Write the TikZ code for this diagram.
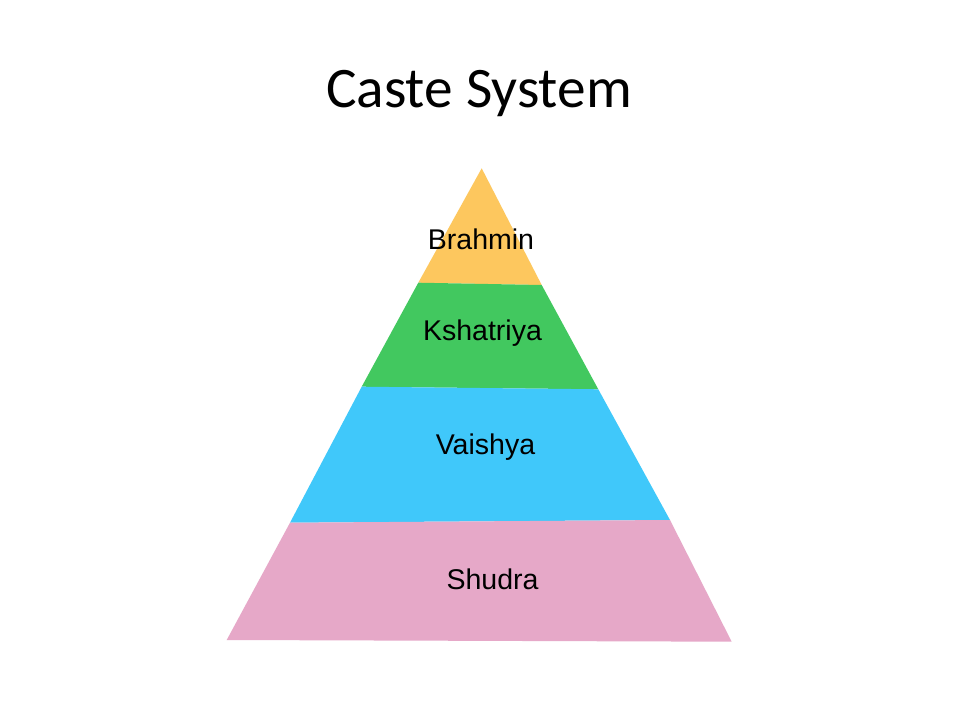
\documentclass[tikz,border=0pt]{standalone}
\usepackage{fontspec}
\setmainfont{Liberation Sans}
\newfontfamily\titlefont{Carlito}
\definecolor{cyellow}{RGB}{253,199,94}
\definecolor{cgreen}{RGB}{66,200,95}
\definecolor{cblue}{RGB}{64,200,250}
\definecolor{cpink}{RGB}{230,168,200}
\begin{document}
\begin{tikzpicture}[x=0.75pt,y=-0.75pt,
  lbl/.style={anchor=base,inner sep=0pt,font=\fontsize{21.4}{24}\selectfont}]
\useasboundingbox (0,0) rectangle (960,720);
\fill[white] (0,0) rectangle (960,720);
\node[anchor=base,inner sep=0pt,font=\titlefont\fontsize{43}{50}\selectfont] (title) at (479,108) {Caste System};
\fill[cyellow] (481.7,168.3) -- (418.3,282.7) -- (541.7,285) -- cycle;
\fill[cgreen] (418.3,282.7) -- (541.7,285) -- (598.3,389.3) -- (361.7,386.7) -- cycle;
\fill[cblue] (361.7,386.7) -- (598.3,389.3) -- (670,520) -- (290,522.7) -- cycle;
\fill[cpink] (290,522.7) -- (670,520) -- (731.7,641.7) -- (226.7,640) -- cycle;
\node[lbl] (brahmin) at (481,250) {Brahmin};
\node[lbl] (kshatriya) at (482.5,340) {Kshatriya};
\node[lbl] (vaishya) at (485.5,454) {Vaishya};
\node[lbl] (shudra) at (492.5,589) {Shudra};
\end{tikzpicture}
\end{document}
